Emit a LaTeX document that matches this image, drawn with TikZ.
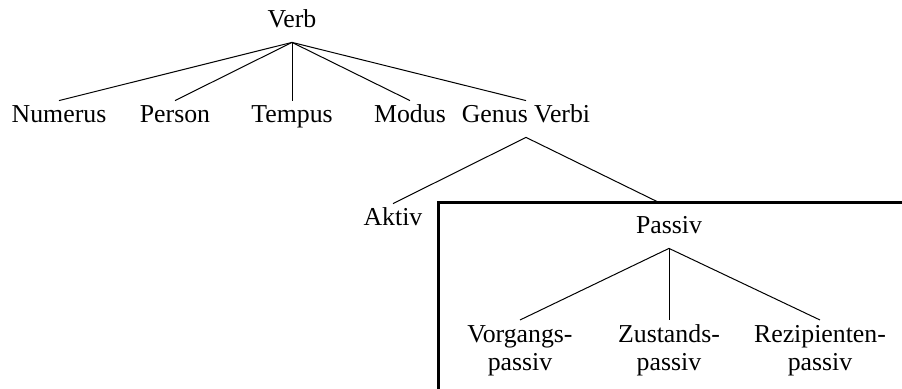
\documentclass[tikz,border=0pt]{standalone}
\usepackage{fontspec}
\setmainfont{Liberation Serif}
\newcommand{\twolines}[2]{\begin{tabular}[t]{@{}c@{}}#1\\#2\end{tabular}}
\begin{document}
\begin{tikzpicture}[x=0.5pt,y=-0.5pt,
  lbl/.style={font=\fontsize{12.9}{14}\selectfont, inner xsep=0pt, inner ysep=2.5pt,
              text height=8.5pt, text depth=4.5pt, anchor=base},
  leaf/.style={lbl, anchor=north},
  branch/.style={line width=0.5pt},
  frame/.style={line width=1.5pt}]
\useasboundingbox (0,0) rectangle (902,389);
\clip (0,0) rectangle (902,389);

% top level
\node[lbl] (verb) at (292,28) {Verb};
\node[lbl] (num)  at (59,123)  {Numerus};
\node[lbl] (pers) at (175,123) {Person};
\node[lbl] (temp) at (292,123) {Tempus};
\node[lbl] (mod)  at (410,123) {Modus};
\node[lbl] (gv)   at (526,123) {Genus Verbi};
\foreach \c in {num,pers,temp,mod,gv}
  \draw[branch] (verb.south) -- (\c.north);

% voice
\node[lbl] (akt) at (393,226) {Aktiv};
\coordinate (passivtop) at (660,203);
\draw[branch] (gv.south) -- (akt.north);
\draw[branch] (gv.south) -- (passivtop);

% frame around the passive subtree
\coordinate (boxcorner) at (438,203);
\draw[frame] (912,203) -- (boxcorner) -- (438,400);

\node[lbl] (pas) at (669,234) {Passiv};
\node[leaf] (vp) at (520,320) {\twolines{Vorgangs-}{passiv}};
\node[leaf] (zp) at (669,320) {\twolines{Zustands-}{passiv}};
\node[leaf] (rp) at (820,320) {\twolines{Rezipienten-}{passiv}};
\foreach \c in {vp,zp,rp}
  \draw[branch] (pas.south) -- (\c.north);
\end{tikzpicture}
\end{document}
